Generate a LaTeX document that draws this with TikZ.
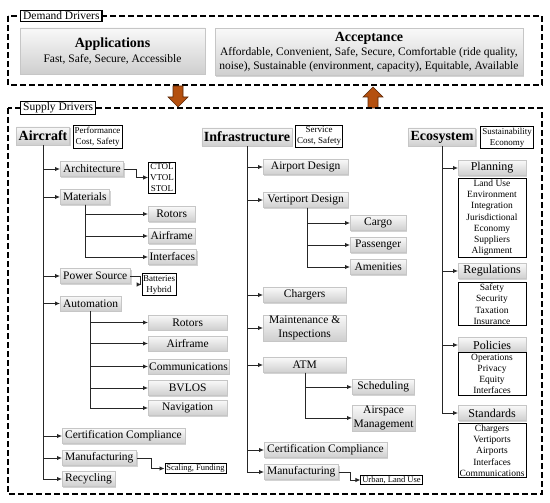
\documentclass[tikz,border=0pt]{standalone}
\usepackage{fontspec}
\setmainfont{Liberation Serif}
\usetikzlibrary{arrows.meta,shadows}
\definecolor{rust}{HTML}{B4500F}
\definecolor{rustdark}{HTML}{5A2606}
\begin{document}
\begin{tikzpicture}[x=1pt,y=-1pt,
  font=\fontsize{11.5}{13}\selectfont,
  conn/.style={line width=0.9pt,draw=black!85},
  arr/.style={conn,-{Latex[length=5pt,width=4.5pt]}},
  gbox/.style={draw=gray!45,line width=0.3pt,top color=gray!5,bottom color=gray!38,
    drop shadow={shadow xshift=1.3pt,shadow yshift=-1.3pt,opacity=0.35},
    inner xsep=3pt,inner ysep=1pt,minimum height=15pt,align=center},
  wbox/.style={draw=black,line width=0.9pt,fill=white,align=center,inner xsep=1.5pt,inner ysep=1.5pt,font=\fontsize{9}{11}\selectfont},
  lbox/.style={draw=black,line width=1pt,fill=white,align=center,inner xsep=1pt,inner ysep=1.5pt,minimum width=68pt,font=\fontsize{9.5}{11.2}\selectfont},
  head/.style={gbox,font=\fontsize{14}{16}\selectfont\bfseries,inner xsep=2pt,minimum height=18pt},
  ehead/.style={gbox,font=\fontsize{12}{14}\selectfont,minimum width=68pt,anchor=west},
  dbox/.style={draw=black,line width=1.7pt,dash pattern=on 6pt off 3pt},
  tag/.style={draw=black,line width=1.3pt,fill=white,inner xsep=2.5pt,inner ysep=1.5pt,font=\fontsize{11.5}{13}\selectfont},
  bigarrow/.style={fill=rust,draw=rustdark,line width=0.6pt}
]
\useasboundingbox (0,0) rectangle (550,503);

% ---------- Demand drivers ----------
\draw[dbox] (8,16) rectangle (542,85);
\node[tag,anchor=west] (dd) at (20,16) {Demand Drivers};
\node[gbox,minimum width=185pt,minimum height=46pt] (app) at (112.5,51)
  {{\fontsize{14}{16}\selectfont\bfseries Applications}\\[1.5pt] Fast, Safe, Secure, Accessible};
\node[gbox,minimum width=308pt,minimum height=47pt,font=\fontsize{11.5}{14}\selectfont] (acc) at (369,52)
  {{\fontsize{14}{16}\selectfont\bfseries Acceptance}\\ Affordable, Convenient, Safe, Secure, Comfortable (ride quality,\\ noise), Sustainable (environment, capacity), Equitable, Available};

% ---------- big arrows ----------
\draw[bigarrow] (173,86) -- (183,86) -- (183,97) -- (188,97) -- (178,107) -- (168,97) -- (173,97) -- cycle;
\draw[bigarrow] (368,108) -- (378,108) -- (378,97) -- (383,97) -- (373,87) -- (363,97) -- (368,97) -- cycle;

% ---------- Supply drivers ----------
\draw[dbox] (8,108) rectangle (542,494);
\node[tag,anchor=west] (sd) at (20,108) {Supply Drivers};

% ---------- Aircraft ----------
\node[head] (ac) at (43,136) {Aircraft};
\node[wbox] (acp) at (97.5,137) {Performance\\Cost, Safety};
\node[gbox,anchor=west] (arch) at (60,169) {Architecture};
\node[gbox,anchor=west] (mat) at (60,197) {Materials};
\node[gbox,anchor=west] (pow) at (60,276) {Power Source};
\node[gbox,anchor=west] (auto) at (60,303.5) {Automation};
\node[gbox,anchor=west] (cert) at (62,436) {Certification Compliance};
\node[gbox,anchor=west] (manu) at (62,458) {Manufacturing};
\node[gbox,anchor=west] (recy) at (62,479) {Recycling};

\node[wbox] (ctol) at (162,177.5) {CTOL\\VTOL\\STOL};
\node[gbox,anchor=west,minimum width=47pt,inner xsep=1.5pt] (mrot) at (148,214) {Rotors};
\node[gbox,anchor=west,minimum width=47pt,inner xsep=1.5pt] (mair) at (148,236) {Airframe};
\node[gbox,anchor=west,minimum width=47pt,inner xsep=1.5pt] (mint) at (148,257) {Interfaces};
\node[wbox,inner xsep=1pt] (batt) at (159,284.5) {Batteries\\Hybrid};
\node[gbox,anchor=west,minimum width=79pt,inner xsep=1pt] (arot) at (148,322.5) {Rotors};
\node[gbox,anchor=west,minimum width=79pt,inner xsep=1pt] (aair) at (148,343.5) {Airframe};
\node[gbox,anchor=west,minimum width=79pt,inner xsep=1pt] (acom) at (148,366.5) {Communications};
\node[gbox,anchor=west,minimum width=79pt,inner xsep=1pt] (abv) at (148,388) {BVLOS};
\node[gbox,anchor=west,minimum width=79pt,inner xsep=1pt] (anav) at (148,408) {Navigation};
\node[wbox,font=\fontsize{8.5}{10}\selectfont,inner ysep=1pt] (scal) at (195.5,468.5) {Scaling, Funding};

\foreach \n in {arch,mat,pow,auto,cert,manu,recy}
  \draw[arr] (ac.south) |- (\n.west);
\draw[arr] (arch.east) -- ++(13,0) |- (ctol.west);
\foreach \n in {mrot,mair,mint}
  \draw[arr] (mat.south west) ++(25,0) |- (\n.west);
\draw[arr] (pow.east) -- ++(10,0) |- (batt.west);
\foreach \n in {arot,aair,acom,abv,anav}
  \draw[arr] (auto.south west) ++(30,0) |- (\n.west);
\draw[arr] (manu.east) -- ++(15,0) |- (scal.west);

% ---------- Infrastructure ----------
\node[head] (inf) at (247,137) {Infrastructure};
\node[wbox] (infs) at (319,136) {Service\\Cost, Safety};
\node[gbox,anchor=west,minimum width=85pt] (airp) at (263,167) {Airport Design};
\node[gbox,anchor=west,minimum width=85pt] (vert) at (263,200) {Vertiport Design};
\node[gbox,anchor=west,minimum width=83pt] (charg) at (263,295) {Chargers};
\node[gbox,anchor=west,minimum width=83pt,font=\fontsize{11.5}{13.5}\selectfont] (maint) at (263,328) {Maintenance \&\\Inspections};
\node[gbox,anchor=west,minimum width=83pt] (atm) at (263,365) {ATM};
\node[gbox,anchor=west] (cert2) at (264,450) {Certification Compliance};
\node[gbox,anchor=west] (manu2) at (264,472) {Manufacturing};

\node[gbox,anchor=west,minimum width=56pt,inner xsep=1.5pt] (cargo) at (350,223) {Cargo};
\node[gbox,anchor=west,minimum width=56pt,inner xsep=1.5pt] (pass) at (350,245) {Passenger};
\node[gbox,anchor=west,minimum width=56pt,inner xsep=1.5pt] (amen) at (350,267) {Amenities};
\node[gbox,anchor=west,minimum width=62pt,inner xsep=1.5pt] (sched) at (352,387) {Scheduling};
\node[gbox,anchor=west,minimum width=62pt,inner xsep=1.5pt,font=\fontsize{11.5}{13.5}\selectfont] (airsp) at (352,418) {Airspace\\Management};
\node[wbox,font=\fontsize{8.5}{10}\selectfont,inner ysep=1pt] (urban) at (391.5,480) {Urban, Land Use};

\foreach \n in {airp,vert,charg,maint,atm,cert2,manu2}
  \draw[arr] (inf.south) |- (\n.west);
\foreach \n in {cargo,pass,amen}
  \draw[arr] (vert.south west) ++(44,0) |- (\n.west);
\foreach \n in {sched,airsp}
  \draw[arr] (atm.south west) ++(42,0) |- (\n.west);
\draw[arr] (manu2.east) -- ++(12,0) |- (urban.west);

% ---------- Ecosystem ----------
\node[head] (eco) at (442,137) {Ecosystem};
\node[wbox] (ecos) at (507,137.5) {Sustainability\\Economy};
\node[ehead] (plan) at (458,168) {Planning};
\node[lbox,anchor=north] (planl) at (492,178) {Land Use\\Environment\\Integration\\Jurisdictional\\Economy\\Suppliers\\Alignment};
\node[ehead] (reg) at (458,271) {Regulations};
\node[lbox,anchor=north] (regl) at (492,282) {Safety\\Security\\Taxation\\Insurance};
\node[ehead] (pol) at (458,345) {Policies};
\node[lbox,anchor=north] (poll) at (492,352) {Operations\\Privacy\\Equity\\Interfaces};
\node[ehead] (std) at (458,413) {Standards};
\node[lbox,anchor=north] (stdl) at (492,423) {Chargers\\Vertiports\\Airports\\Interfaces\\Communications};

\foreach \n in {plan,reg,pol,std}
  \draw[arr] (eco.south) |- (\n.west);
\end{tikzpicture}
\end{document}
